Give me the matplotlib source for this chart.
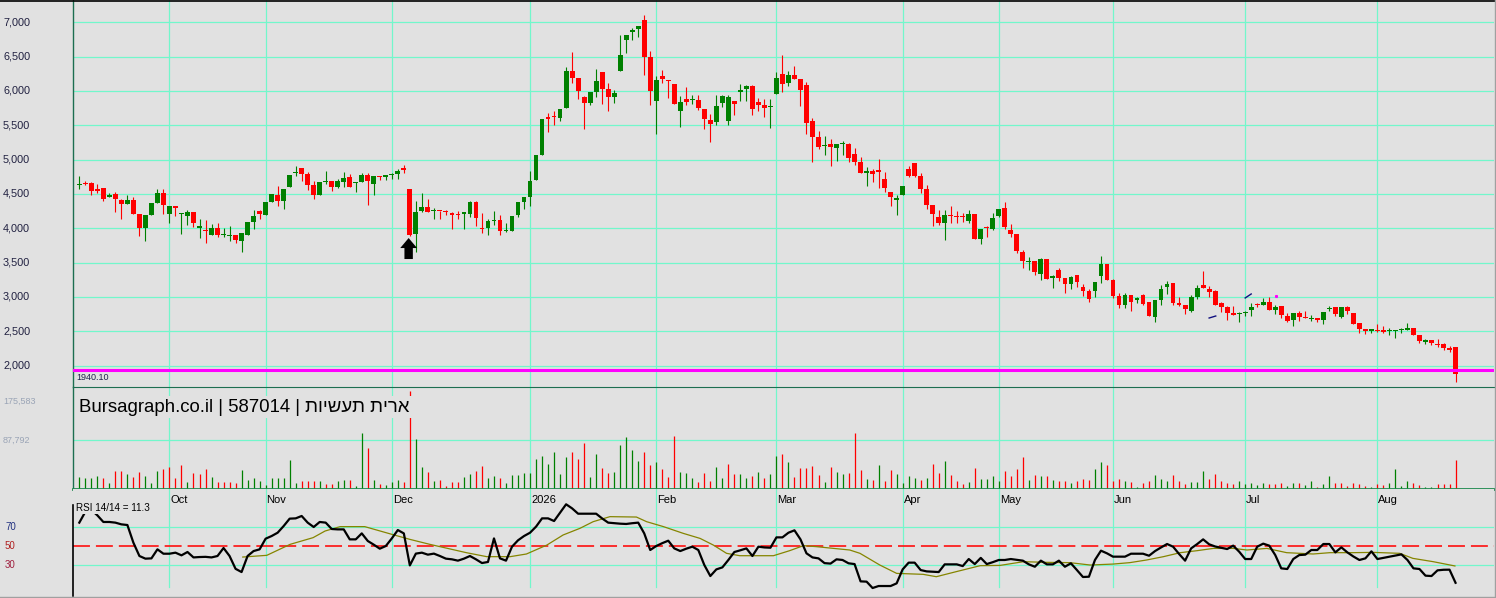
import numpy as np
import matplotlib
matplotlib.use("Agg")
import matplotlib.pyplot as plt
from matplotlib.patches import FancyArrow
from matplotlib.lines import Line2D
from matplotlib.transforms import blended_transform_factory

plt.rcParams['font.family'] = ['Liberation Sans', 'DejaVu Sans']
plt.rcParams['lines.scale_dashes'] = False

# ---- daily candles (trading day index 0..229) ----
opens = [
    4630, 4660, 4664, 4577, 4582, 4460, 4500, 4412, 4358, 4412,
    4208, 4004, 4198, 4373, 4514, 4213, 4320, 4205, 4183, 4237,
    4010, 3968, 3907, 4004, 3898, 3890, 3897, 3820, 3907, 4096,
    4247, 4198, 4383, 4485, 4397, 4601, 4810, 4878, 4791, 4630,
    4490, 4675, 4688, 4606, 4669, 4747, 4660, 4679, 4781, 4640,
    4761, 4742, 4772, 4786, 4865, 4572, 3921, 4247, 4310, 4248,
    4250, 4245, 4227, 4196, 4215, 4213, 4388, 4005, 3999, 4104,
    4120, 3958, 3965, 4193, 4388, 4461, 4703, 5072, 5605, 5636,
    5606, 5757, 6291, 6189, 5912, 5830, 5990, 6276, 6029, 5917,
    6296, 6748, 6854, 6908, 7034, 6495, 5859, 6218, 6160, 6102,
    5708, 5883, 5865, 5868, 5737, 5577, 5553, 5830, 5568, 5854,
    5980, 6024, 6073, 5839, 5791, 5765, 5961, 6247, 6116, 6233,
    6174, 6087, 5563, 5335, 5198, 5232, 5174, 5225, 5228, 5082,
    4960, 4812, 4834, 4832, 4713, 4523, 4407, 4485, 4863, 4946,
    4761, 4572, 4339, 4164, 4072, 4186, 4167, 4167, 4111, 4203,
    3839, 4008, 3994, 4179, 4291, 3970, 3912, 3650, 3512, 3519,
    3334, 3548, 3276, 3388, 3271, 3189, 3315, 3145, 3082, 3082,
    3305, 3475, 3242, 3009, 2888, 3024, 2962, 3033, 2922, 2708,
    2956, 3150, 3198, 2907, 2883, 2800, 3004, 3169, 3121, 3092,
    2912, 2859, 2761, 2750, 2768, 2810, 2902, 2888, 2922, 2815,
    2863, 2727, 2659, 2761, 2702, 2682, 2689, 2664, 2820, 2849,
    2708, 2849, 2761, 2616, 2528, 2499, 2506, 2514, 2502, 2502,
    2512, 2519, 2543, 2441, 2344, 2373, 2307, 2310, 2251, 2266,
]
highs = [
    4761, 4683, 4670, 4640, 4590, 4510, 4529, 4420, 4485, 4450,
    4210, 4195, 4368, 4572, 4577, 4324, 4325, 4218, 4266, 4240,
    4135, 4120, 4062, 4072, 4004, 4033, 3900, 3931, 4096, 4266,
    4266, 4383, 4500, 4616, 4572, 4776, 4907, 4880, 4825, 4684,
    4674, 4834, 4690, 4713, 4815, 4786, 4670, 4805, 4800, 4765,
    4765, 4780, 4800, 4868, 4926, 4575, 4397, 4519, 4427, 4295,
    4255, 4266, 4230, 4252, 4237, 4397, 4397, 4222, 4135, 4252,
    4193, 4072, 4178, 4383, 4456, 4840, 5067, 5592, 5674, 5713,
    5740, 6354, 6573, 6195, 5920, 5985, 6320, 6280, 6116, 6014,
    6815, 6815, 6917, 6950, 7107, 6582, 6223, 6306, 6165, 6105,
    5927, 6053, 5946, 5937, 5740, 5665, 5937, 5941, 5946, 5860,
    6102, 6080, 6087, 5902, 5888, 5888, 6277, 6524, 6296, 6369,
    6180, 6135, 5607, 5417, 5349, 5305, 5230, 5276, 5235, 5169,
    5033, 4888, 4863, 5004, 4820, 4530, 4480, 4616, 4907, 4950,
    4805, 4625, 4345, 4261, 4262, 4325, 4252, 4218, 4262, 4210,
    3990, 4033, 4218, 4276, 4383, 4058, 3915, 3679, 3577, 3525,
    3568, 3552, 3315, 3417, 3275, 3310, 3320, 3184, 3121, 3213,
    3601, 3480, 3257, 3053, 3053, 3030, 3004, 3048, 2925, 2951,
    3169, 3228, 3200, 2995, 2885, 3024, 3169, 3373, 3165, 3095,
    2925, 2862, 2873, 2781, 2800, 2907, 2910, 2985, 2995, 2888,
    2870, 2762, 2761, 2800, 2790, 2732, 2695, 2776, 2863, 2855,
    2849, 2863, 2765, 2620, 2533, 2530, 2601, 2572, 2543, 2514,
    2553, 2621, 2548, 2445, 2380, 2378, 2383, 2324, 2290, 2270,
]
lows = [
    4577, 4625, 4490, 4519, 4397, 4456, 4237, 4140, 4350, 4208,
    3892, 3820, 4190, 4365, 4213, 4072, 4183, 3917, 4043, 4013,
    3858, 3780, 3900, 3868, 3878, 3820, 3790, 3660, 3900, 3994,
    4140, 4190, 4380, 4329, 4285, 4595, 4761, 4688, 4562, 4431,
    4485, 4650, 4548, 4592, 4606, 4606, 4528, 4675, 4344, 4490,
    4703, 4703, 4713, 4713, 4810, 3893, 3660, 4240, 4237, 4140,
    4140, 4198, 3994, 4140, 3994, 4160, 4028, 3936, 3907, 4048,
    3902, 3950, 3960, 4164, 4285, 4324, 4700, 5065, 5407, 5500,
    5567, 5750, 6111, 5888, 5451, 5801, 5917, 5815, 5713, 5830,
    6290, 6558, 6748, 6781, 6233, 5801, 5378, 6111, 5903, 5815,
    5480, 5801, 5815, 5723, 5451, 5262, 5510, 5771, 5510, 5655,
    5859, 5859, 5655, 5708, 5626, 5466, 5955, 5990, 6077, 6180,
    5781, 5378, 4970, 5154, 5067, 4912, 4985, 5067, 4965, 4926,
    4810, 4620, 4678, 4591, 4523, 4330, 4193, 4480, 4742, 4742,
    4519, 4286, 4038, 4052, 3834, 4072, 4072, 4091, 4072, 3839,
    3776, 3878, 3970, 4160, 3985, 3873, 3640, 3422, 3393, 3315,
    3247, 3257, 3130, 3228, 3053, 3111, 3145, 3009, 2927, 3004,
    3203, 3247, 2980, 2839, 2839, 2795, 2907, 2883, 2723, 2640,
    2888, 3048, 2883, 2870, 2752, 2781, 2975, 3130, 2999, 2880,
    2786, 2664, 2740, 2635, 2723, 2723, 2849, 2880, 2805, 2757,
    2698, 2640, 2577, 2655, 2695, 2650, 2640, 2601, 2795, 2722,
    2700, 2752, 2606, 2475, 2455, 2475, 2485, 2480, 2446, 2402,
    2475, 2515, 2446, 2334, 2315, 2295, 2276, 2227, 2198, 1761,
]
closes = [
    4645, 4650, 4548, 4538, 4427, 4485, 4432, 4358, 4412, 4213,
    4004, 4188, 4368, 4514, 4344, 4324, 4300, 4208, 4237, 4082,
    4015, 3963, 4004, 3907, 3903, 3897, 3829, 3931, 4096, 4178,
    4203, 4383, 4500, 4402, 4572, 4776, 4820, 4796, 4635, 4490,
    4674, 4682, 4606, 4688, 4732, 4606, 4668, 4781, 4693, 4761,
    4742, 4776, 4778, 4834, 4855, 3902, 4237, 4310, 4237, 4255,
    4245, 4240, 4198, 4190, 4220, 4388, 4155, 3995, 4101, 4108,
    3965, 3962, 4178, 4383, 4456, 4688, 5067, 5592, 5598, 5616,
    5737, 6291, 6194, 6004, 5830, 5985, 6145, 6033, 5917, 5970,
    6524, 6815, 6893, 6947, 6500, 6004, 6155, 6170, 6150, 5815,
    5839, 5844, 5870, 5757, 5587, 5524, 5781, 5922, 5907, 5815,
    6014, 6073, 5742, 5800, 5757, 5775, 6189, 6106, 6233, 6174,
    6019, 5533, 5335, 5189, 5208, 5184, 5223, 5230, 5029, 4970,
    4810, 4818, 4795, 4826, 4591, 4451, 4436, 4616, 4766, 4766,
    4577, 4344, 4213, 4077, 4193, 4180, 4161, 4161, 4203, 3839,
    3985, 4002, 4145, 4276, 4024, 3917, 3669, 3524, 3516, 3364,
    3548, 3257, 3305, 3276, 3189, 3286, 3218, 3087, 2965, 3213,
    3475, 3247, 3014, 2888, 3024, 2927, 2968, 2897, 2723, 2951,
    3121, 3194, 2912, 2883, 2829, 2995, 3126, 3135, 3072, 2883,
    2859, 2766, 2742, 2755, 2774, 2859, 2883, 2922, 2810, 2849,
    2737, 2650, 2761, 2708, 2696, 2687, 2664, 2776, 2844, 2752,
    2849, 2795, 2606, 2528, 2499, 2528, 2502, 2485, 2506, 2506,
    2516, 2543, 2446, 2358, 2378, 2324, 2303, 2251, 2222, 1880,
]
last_price = 1940.10

# volume in thousands of shares, and its up/down colouring
volume_k = [
    22.1, 20.3, 20.3, 23.9, 19.1, 11.3, 32.8, 32.8, 27.5, 22.1,
    31.0, 23.9, 11.3, 32.8, 36.4, 40.0, 20.3, 43.6, 13.1, 29.3,
    27.5, 36.4, 22.1, 13.1, 13.1, 13.1, 11.3, 34.6, 16.7, 20.3,
    14.9, 7.8, 20.3, 20.3, 20.3, 52.5, 11.3, 14.9, 14.9, 14.9,
    14.9, 9.6, 9.6, 14.9, 16.7, 16.7, 6.0, 100.9, 74.0, 16.7,
    9.6, 7.8, 13.1, 16.7, 13.1, 175.583, 90.1, 40.0, 31.0, 14.9,
    16.7, 6.0, 13.1, 13.1, 22.1, 27.5, 32.8, 41.8, 20.3, 23.9,
    20.3, 11.3, 25.7, 25.7, 29.3, 29.3, 54.3, 59.7, 45.4, 66.9,
    27.5, 57.9, 66.9, 54.3, 83.0, 22.1, 63.3, 38.2, 29.3, 31.0,
    79.4, 93.7, 70.4, 50.7, 66.9, 43.6, 49.0, 36.4, 22.1, 95.5,
    31.0, 29.3, 20.3, 13.1, 29.3, 14.9, 40.0, 20.3, 45.4, 27.5,
    27.5, 20.3, 23.9, 31.0, 20.3, 27.5, 59.7, 63.3, 49.0, 22.1,
    38.2, 38.2, 41.8, 25.7, 13.1, 40.0, 31.0, 27.5, 29.3, 100.9,
    34.6, 18.5, 16.7, 43.6, 14.9, 34.6, 27.5, 11.3, 23.9, 20.3,
    16.7, 20.3, 45.4, 29.3, 50.7, 25.7, 14.9, 9.6, 13.1, 38.2,
    18.5, 18.5, 23.9, 14.9, 32.8, 23.9, 36.4, 57.9, 16.7, 25.7,
    23.9, 23.9, 16.7, 14.9, 14.9, 11.3, 14.9, 18.5, 16.7, 36.4,
    49.0, 43.6, 14.9, 18.5, 14.9, 13.1, 4.2, 11.3, 14.9, 25.7,
    18.5, 14.9, 25.7, 14.9, 9.6, 13.1, 13.1, 32.8, 18.5, 27.5,
    14.9, 11.3, 9.6, 14.9, 9.6, 11.3, 7.8, 11.3, 9.6, 9.6,
    11.3, 6.0, 11.3, 11.3, 7.8, 14.9, 4.2, 9.6, 23.9, 11.3,
    11.3, 6.0, 11.3, 9.6, 6.0, 4.2, 9.6, 7.8, 11.3, 36.4,
    6.0, 14.9, 11.3, 7.8, 4.2, 4.2, 9.6, 9.6, 9.6, 52.5,
]
vol_up = [
    1, 1, 1, 1, 0, 1, 0, 0, 1, 0,
    0, 1, 1, 1, 0, 0, 0, 0, 1, 0,
    0, 0, 1, 0, 0, 0, 0, 1, 1, 1,
    1, 1, 1, 1, 1, 1, 1, 0, 0, 0,
    1, 0, 0, 1, 1, 0, 1, 1, 0, 1,
    0, 1, 1, 1, 0, 0, 1, 1, 0, 1,
    0, 0, 0, 0, 1, 1, 0, 0, 1, 1,
    0, 1, 1, 1, 1, 1, 1, 1, 1, 1,
    1, 1, 0, 0, 0, 1, 1, 0, 0, 1,
    1, 1, 1, 1, 0, 0, 1, 0, 0, 0,
    1, 1, 1, 0, 0, 0, 1, 1, 0, 0,
    1, 1, 0, 1, 0, 1, 1, 0, 1, 0,
    0, 0, 0, 0, 1, 0, 1, 1, 0, 0,
    0, 1, 0, 1, 0, 0, 1, 1, 1, 1,
    0, 1, 0, 0, 1, 0, 0, 0, 1, 0,
    1, 1, 1, 1, 0, 0, 0, 0, 1, 0,
    1, 0, 1, 0, 0, 1, 0, 0, 0, 1,
    1, 0, 0, 0, 1, 0, 1, 0, 0, 1,
    1, 1, 0, 0, 0, 1, 1, 1, 0, 0,
    0, 0, 0, 1, 1, 1, 1, 1, 0, 0,
    0, 1, 1, 0, 1, 1, 0, 1, 1, 0,
    0, 0, 0, 0, 0, 1, 0, 0, 1, 1,
    1, 1, 0, 0, 1, 1, 0, 0, 0, 0,
]

# RSI 14 per day and its moving average
rsi = [
    74.6, 86, 88, 82.3, 75.3, 75.3, 74.6, 72.8, 72.1, 53.5,
    39.5, 36.7, 37, 46.5, 41.9, 41.9, 43, 40.2, 43.7, 38,
    38.4, 38.6, 38, 39.5, 47.9, 39.5, 26, 22.6, 39.5, 44.7,
    46.5, 57.7, 60.5, 64, 71, 78.8, 79.1, 81.6, 74.6, 70,
    75.3, 74.6, 67.9, 67.5, 67.5, 57, 57, 63.3, 55.3, 51.4,
    47.2, 50, 58, 66.8, 63.3, 29.6, 42, 43, 40.9, 42,
    39.5, 36.7, 36, 34.6, 36.7, 39.5, 36, 32.1, 33.2, 58,
    37, 34.6, 49.3, 56, 60.5, 64, 70.4, 79.1, 79.1, 76.3,
    85.1, 93.9, 89.6, 84, 84, 84, 84, 79, 74.6, 74,
    73.5, 73.2, 74, 74.6, 63.3, 45.8, 50, 53, 55.6, 47.5,
    44.7, 47.2, 49.3, 45.8, 30, 18.4, 25.4, 27.5, 35.3, 43.7,
    45.5, 47.5, 39.5, 49.3, 48.5, 48.2, 59.1, 59.1, 64, 66.5,
    57, 42.3, 38, 37, 32, 31.5, 36, 35.3, 31.8, 31,
    12.8, 12.5, 5.8, 7.9, 7.9, 7.9, 10.7, 25.4, 32.5, 32.5,
    24.7, 23.3, 23, 22.6, 30.7, 30.7, 30.7, 28.9, 36.3, 31,
    37.5, 31, 33, 35.3, 35.3, 36.3, 35.5, 34.6, 30.7, 28.2,
    34.6, 30.7, 30.7, 34.6, 28.2, 31.8, 24.7, 17.4, 17.7, 35.3,
    45.1, 42.3, 38.8, 38.8, 38.8, 41.9, 41.9, 41.9, 39.8, 44.7,
    48.5, 52.1, 49.3, 41.6, 34.6, 47.5, 52, 57, 51.8, 49.5,
    48.2, 46.8, 50.4, 44, 36.3, 36.3, 49.3, 52.5, 50.4, 40.5,
    26.5, 25.8, 36.3, 40.5, 40.9, 45.8, 45.8, 52.1, 52.1, 43.3,
    48.6, 43.3, 39, 35.3, 37, 44.4, 36.3, 37.5, 38.8, 40,
    41.2, 35.3, 26.5, 25.8, 18.8, 18.4, 24.4, 25, 25.1, 11.3,
]
rsi_ma_day = [27.2, 31.2, 35.1, 37, 38.9, 40.9, 43.4, 47.5, 52, 55, 58.3, 64.4, 67.8,
              71.7, 74.4, 77.8, 80.5, 83.3, 85.5, 88.3, 92.7, 94.4, 97.2, 100.5, 103.3,
              105.5, 107.7, 109.9, 115.5, 118.2, 120.5, 122.7, 125.5, 128.2, 129.9, 133.2,
              136, 140.4, 142.6, 145.9, 149.9, 153.2, 157.1, 161, 164.8, 168.2, 172,
              174.8, 177.6, 180.4, 183.2, 186, 188.7, 192, 194.3, 197.6, 200.9, 205.3,
              208.1, 212, 215.3, 219.7, 221.9, 225.3, 228.9]
rsi_ma = [38.4, 40.2, 51.8, 55.3, 58.8, 65.8, 70.4, 70.4, 62.3, 57, 51.8, 43, 38.8,
          38.8, 41.6, 51, 61.6, 68.6, 75.6, 80.9, 80.5, 75.6, 70.4, 63.3, 58,
          51, 42.3, 39.8, 39.8, 45.1, 50.4, 49.3, 47.5, 45.8, 42.3, 30,
          21.2, 20.2, 17.7, 23, 29.3, 29.6, 33.5, 32.8, 32.5, 30, 31,
          32.5, 35.3, 38.8, 43, 45.1, 47.5, 47.5, 45.8, 47.5, 43, 41.6,
          43, 43, 43.3, 42.3, 37, 33.5, 29]

month_days = [15, 31, 52, 75, 96, 116, 137, 153, 172, 194, 216]
month_names = ['Oct', 'Nov', 'Dec', '2026', 'Feb', 'Mar', 'Apr', 'May', 'Jun', 'Jul', 'Aug']
price_levels = [2000, 2500, 3000, 3500, 4000, 4500, 5000, 5500, 6000, 6500, 7000]
rsi_levels = [70, 50, 30]

title = "Bursagraph.co.il | 587014 | "
name_he = "ארית תעשיות"
signal_day, signal_price = 54.8, 3552
# small trend-line marks left on the chart (day0, price0, day1, price1)
marks = [(188.0, 2693, 189.1, 2722), (194.0, 2985, 195.0, 3043)]
dot = (199.1, 3014)

# ---- figure layout (pixel based) ----
W, H = 1496, 598
bg = '#e1e1e1'
grid = '#72f7cb'
green = '#008000'
red = '#ff0000'
frame = '#1c6e50'

fig = plt.figure(figsize=(W / 100, H / 100), dpi=100)
fig.patch.set_facecolor(bg)


def px_axes(top, bottom):
    ax = fig.add_axes([73 / W, 1 - bottom / H, (1494 - 73) / W, (bottom - top) / H])
    ax.set_facecolor(bg)
    ax.set_xticks([])
    ax.set_yticks([])
    for s in ax.spines.values():
        s.set_visible(False)
    ax.set_xlim(-1.05, 235.4)
    return ax


ax_p = px_axes(0, 387)
ax_v = px_axes(387, 489)
ax_r = px_axes(489, 596)

days = np.arange(len(closes))
o = np.array(opens, float)
h = np.array(highs, float)
l = np.array(lows, float)
c = np.array(closes, float)

# ---- price panel ----
ax_p.set_ylim(1688, 7325)
for v in price_levels:
    ax_p.axhline(v, color=grid, lw=0.9, zorder=1)
for d in month_days:
    ax_p.axvline(d, color=grid, lw=0.9, zorder=1)

cols = np.where(c >= o, green, red)
ax_p.vlines(days, l, h, colors=cols, lw=0.8, zorder=3)
body_lo = np.minimum(o, c)
body_h = np.maximum(np.abs(c - o), 16)
ax_p.bar(days, body_h, bottom=body_lo, width=0.8, color=cols, lw=0, zorder=4)

ax_p.axhline(last_price, color='#ff00ff', lw=2.2, zorder=5)
ax_p.text(0.0025, last_price - 45, f"{last_price:.2f}", transform=blended_transform_factory(ax_p.transAxes, ax_p.transData),
          fontsize=6.5, color='#202050', va='top', ha='left', zorder=6)

ax_p.add_patch(FancyArrow(signal_day, signal_price, 0, 306, width=1.4, head_width=2.8,
                          head_length=146, length_includes_head=True, fc='black', ec='black',
                          lw=0, zorder=6))
for d0, p0, d1, p1 in marks:
    ax_p.plot([d0, d1], [p0, p1], color='#101080', lw=1.0, zorder=6)
ax_p.plot([dot[0]], [dot[1]], marker='s', ms=1.2, color='#ff00ff', zorder=6)

ptrans = blended_transform_factory(fig.transFigure, ax_p.transData)
for v in price_levels:
    ax_p.text(3 / W, v, f"{v:,}", transform=ptrans, fontsize=7.8, color='#202040',
              va='center', ha='left')

ax_p.spines['left'].set_visible(True)
ax_p.spines['left'].set_color(frame)
ax_p.spines['left'].set_linewidth(1.0)

# ---- volume panel ----
vmax = max(volume_k)
ax_v.set_ylim(0, 182.75)
ax_v.axhline(vmax / 2, color=grid, lw=0.9, zorder=1)
for d in month_days:
    ax_v.axvline(d, color=grid, lw=0.9, zorder=1)
vcols = [green if u else red for u in vol_up]
ax_v.vlines(days, 0, volume_k, colors=vcols, lw=0.9, zorder=3)
ax_v.axhline(0, color='#1f8a50', lw=2.0, zorder=4, clip_on=False)
ax_v.spines['left'].set_visible(True)
ax_v.spines['left'].set_color(frame)
ax_v.spines['left'].set_linewidth(1.0)
ax_v.spines['top'].set_visible(True)
ax_v.spines['top'].set_color(frame)
ax_v.spines['top'].set_linewidth(0.8)

ax_v.text(6 / 1421, (489 - 411.5) / 102, title + name_he[::-1], transform=ax_v.transAxes,
          fontsize=13.4, color='black', va='baseline', ha='left', zorder=10,
          bbox=dict(boxstyle='square,pad=0.12', fc=bg, ec='none'))

fig.text(3 / W, 1 - 401 / H, f"{vmax * 1000:,.0f}", fontsize=6.5, color='#9aa4b6',
         va='center', ha='left')
vtrans = blended_transform_factory(fig.transFigure, ax_v.transData)
ax_v.text(3 / W, vmax / 2, f"{vmax * 500:,.0f}", transform=vtrans, fontsize=6.5,
          color='#9aa4b6', va='center', ha='left')

# ---- RSI panel ----
ax_r.set_ylim(-2.6, 110)
ax_r.axhline(70, color=grid, lw=0.9, zorder=1)
ax_r.axhline(30, color=grid, lw=0.9, zorder=1)
ax_r.axhline(50, color='#ff1010', lw=1.2, dashes=(12.2, 4.3), zorder=2)
for d, name in zip(month_days, month_names):
    ax_r.axvline(d, ymin=0.084, ymax=1, color=grid, lw=0.9, zorder=1)
    ax_r.text(d + 0.15, 98.4, name, fontsize=8, color='black', va='center', ha='left')

ax_r.plot(rsi_ma_day, rsi_ma, color='#858500', lw=0.9, zorder=3)
ax_r.plot(days, rsi, color='black', lw=1.6, zorder=4)
ax_r.axvline(-1.05, ymin=0, ymax=0.85, color='black', lw=1.2, clip_on=False, zorder=5)

ax_r.text(3 / 1421, 89.5, f"RSI 14/14 = {rsi[-1]}", transform=blended_transform_factory(ax_r.transAxes, ax_r.transData),
          fontsize=7.1, color='black', va='center', ha='left', zorder=10,
          bbox=dict(boxstyle='square,pad=0.1', fc=bg, ec='none'))

rtrans = blended_transform_factory(fig.transFigure, ax_r.transData)
rsi_label_cols = {70: '#203080', 50: '#b02020', 30: '#a02040'}
for v in rsi_levels:
    ax_r.text(5 / W, v, str(v), transform=rtrans, fontsize=7, color=rsi_label_cols[v],
              va='center', ha='left')

# ---- outer frame ----
fig.add_artist(Line2D([0, 1], [1 - 0.5 / H, 1 - 0.5 / H], color='black', lw=1.2))
fig.add_artist(Line2D([1494.5 / W, 1494.5 / W], [0, 1], color='#a0a0a0', lw=1.0))
fig.add_artist(Line2D([0, 1], [1.2 / H, 1.2 / H], color='#a0a0a0', lw=1.0))

fig.savefig("out.png", dpi=100, facecolor=bg)
